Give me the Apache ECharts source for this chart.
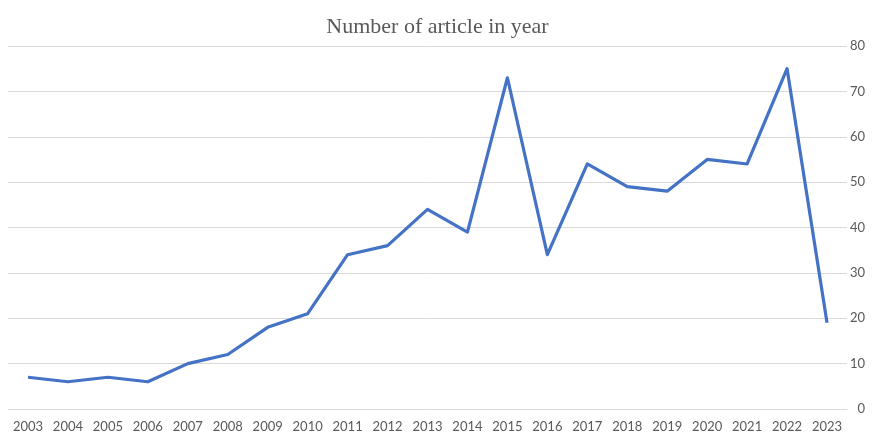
<!DOCTYPE html>
<html><head><meta charset="utf-8">
<script src="https://cdn.jsdelivr.net/npm/echarts@6/dist/echarts.min.js"></script>
<style>html,body{margin:0;padding:0;background:#fff;overflow:hidden}#c{width:875px;height:433px}</style>
</head><body><div id="c"></div>
<script>
const titleText = "Number of article in year";
const years = ["2003","2004","2005","2006","2007","2008","2009","2010","2011","2012","2013","2014","2015","2016","2017","2018","2019","2020","2021","2022","2023"];
const articles = [7,6,7,6,10,12,18,21,34,36,44,39,73,34,54,49,48,55,54,75,19];
const yMin = 0, yMax = 80, yStep = 10;

const chart = echarts.init(document.getElementById('c'));
chart.setOption({
  animation: false,
  title: {
    text: titleText, left: 'center', top: 11,
    textStyle: {fontFamily: 'Liberation Serif', fontSize: 22, fontWeight: 'normal', color: '#595959'}
  },
  grid: {left: 8, right: 28, top: 46, bottom: 21.5, containLabel: false},
  xAxis: {
    type: 'category', data: years, boundaryGap: true,
    axisLine: {show: true, lineStyle: {color: '#d9d9d9', width: 1}},
    axisTick: {show: false},
    axisLabel: {color: '#595959', fontFamily: 'Lato', fontSize: 13, margin: 11, interval: 0}
  },
  yAxis: {
    type: 'value', position: 'right', min: yMin, max: yMax, interval: yStep,
    axisLine: {show: false}, axisTick: {show: false},
    splitLine: {lineStyle: {color: '#d9d9d9', width: 1}},
    axisLabel: {color: '#595959', fontFamily: 'Lato', fontSize: 13, margin: 18, align: 'right'}
  },
  series: [{
    type: 'line', data: articles, symbol: 'none',
    lineStyle: {color: '#4472C4', width: 3.2, join: 'round'}
  }]
});
</script></body></html>
